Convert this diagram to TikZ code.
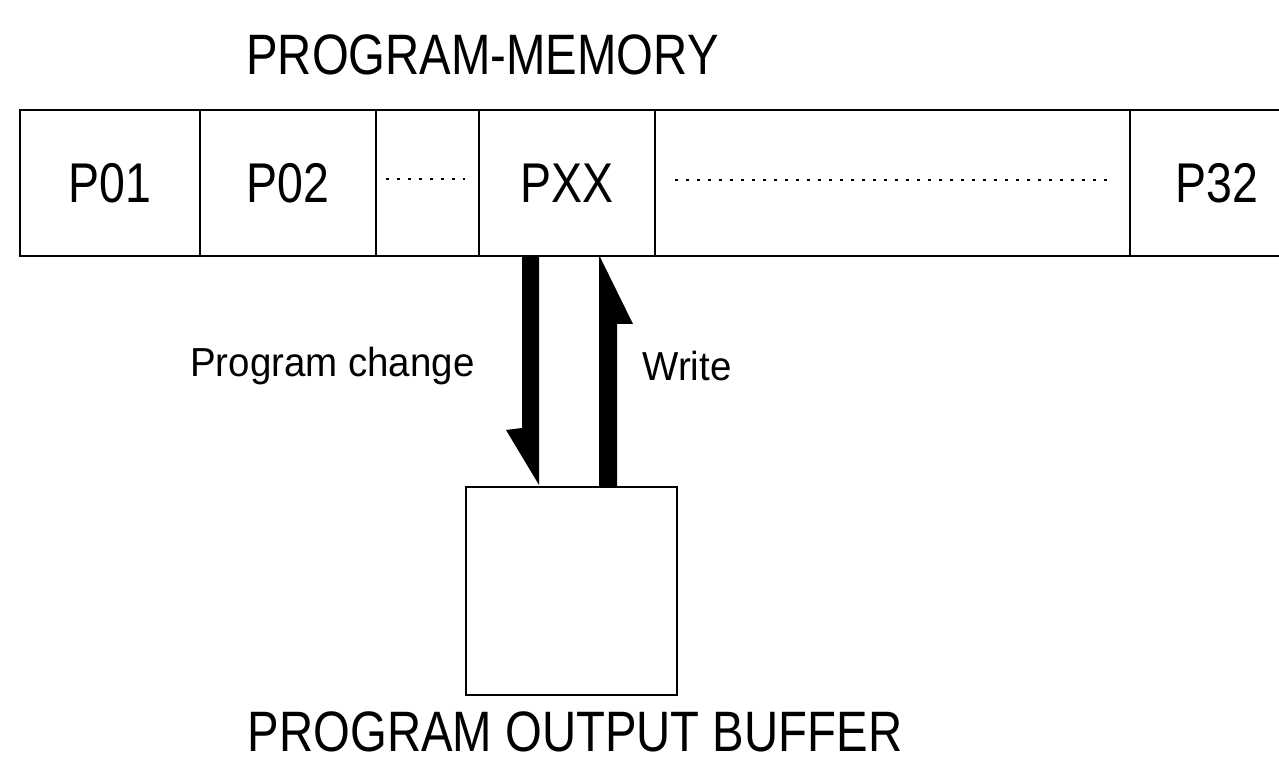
\documentclass[tikz,border=0pt]{standalone}
\usepackage{fontspec}
\newfontfamily\memfont[FakeStretch=0.83]{Liberation Sans}
\newfontfamily\notefont[FakeStretch=0.95]{Liberation Sans}
\usetikzlibrary{positioning,calc}
\tikzset{
  memcell/.style={draw,line width=1.2pt,minimum height=73pt,inner sep=0pt,outer sep=0pt,
    font=\memfont\fontsize{28}{30}\selectfont},
  stripline/.style={line width=1.2pt},
  dotrow/.style={line width=1.2pt,dash pattern=on 1.5pt off 4pt},
  bufbox/.style={draw,line width=1.1pt,minimum width=105.5pt,minimum height=104pt,
    inner sep=0pt,outer sep=0pt},
  titletext/.style={font=\memfont\fontsize{28.5}{30}\selectfont,inner sep=0pt},
  notetext/.style={font=\notefont\fontsize{20.25}{22}\selectfont,inner sep=0pt},
  flowarrow/.style={fill=black}
}
\begin{document}
\begin{tikzpicture}[x=0.5pt,y=0.5pt]
  \useasboundingbox (0,0) rectangle (1279,765);
  \node[memcell,minimum width=90pt] (p01) at (110,582) {P01};
  \node[memcell,minimum width=88pt,right=0pt of p01] (p02) {P02};
  \node[memcell,minimum width=51.5pt,right=0pt of p02] (pdots) {};
  \node[memcell,minimum width=88pt,right=0pt of pdots] (pxx) {PXX};
  \node[memcell,minimum width=237.5pt,right=0pt of pxx] (plong) {};
  \node[memcell,draw=none] (p32) at (1217,582) {P32};
  \coordinate (stripend) at (1279,582);
  \draw[stripline] (plong.north east) -- (plong.north east -| stripend)
    (plong.south east) -- (plong.south east -| stripend);
  \draw[dotrow] ($(pdots.west)+(10,4)$) -- ($(pdots.east)+(-14,4)$);
  \draw[dotrow] ($(plong.west)+(20,3)$) -- ($(plong.east)+(-19,3)$);
  \node[titletext,anchor=base] (memtitle) at (482.5,690) {PROGRAM-MEMORY};

  \node[bufbox] (buf) at (571.5,174) {};
  \node[titletext,anchor=base] (buftitle) at (575,13) {PROGRAM OUTPUT BUFFER};

  % program change: down, write: up
  \fill[flowarrow] ($(pxx.south)+(-45,0)$) -- ($(pxx.south)+(-28,0)$)
    -- ($(buf.north)+(-32.5,2)$) -- ($(buf.north)+(-65.5,57)$)
    -- ($(buf.north)+(-49.5,59)$) -- cycle;
  \fill[flowarrow] ($(buf.north)+(27.5,0)$) -- ($(buf.north)+(45.5,0)$)
    -- ($(pxx.south)+(50,-68)$) -- ($(pxx.south)+(66,-68)$)
    -- ($(pxx.south)+(33,-1)$) -- ($(pxx.south)+(32,-1)$) -- cycle;
  \node[notetext,anchor=base east] (chglabel) at (475,388) {Program change};
  \node[notetext,anchor=base west] (wrlabel) at (642,384) {Write};
\end{tikzpicture}
\end{document}
